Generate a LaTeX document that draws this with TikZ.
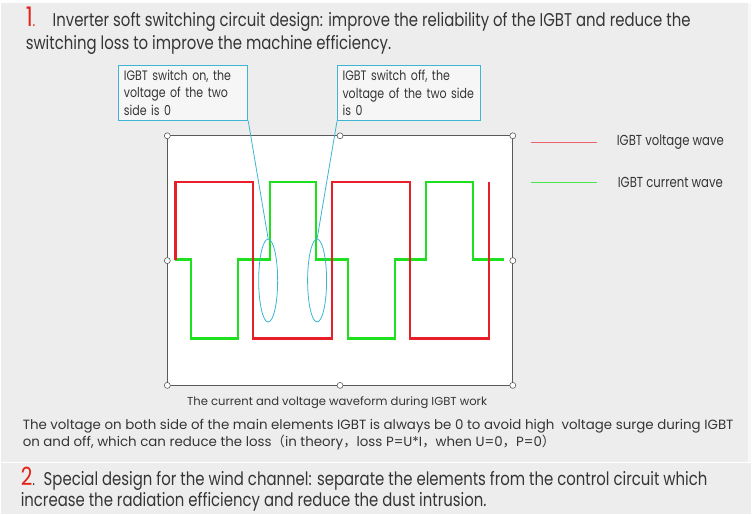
\documentclass[tikz,border=0pt]{standalone}
\usepackage{fontspec}
\setmainfont{Poppins}
\newfontfamily\headfont{Poppins}[FakeStretch=0.806]
\newfontfamily\cjk{Noto Sans CJK SC}
\usepackage{xcolor}
\usetikzlibrary{positioning,shapes.geometric}

\definecolor{bggray}{HTML}{EDEDED}
\definecolor{txtgray}{HTML}{353535}
\definecolor{numred}{HTML}{E2231A}
\definecolor{wavered}{HTML}{E81E28}
\definecolor{wavegreen}{HTML}{1EE01E}
\definecolor{callcyan}{HTML}{3DB5D3}
\definecolor{framegray}{HTML}{5A5A5A}

\tikzset{
  heading/.style={anchor=base west, inner sep=0pt, text=txtgray, font=\headfont\fontsize{18.5}{22}\selectfont},
  bodytext/.style={anchor=base west, inner sep=0pt, text=txtgray, font=\fontsize{13.4}{17}\selectfont},
  callout/.style={draw=callcyan, line width=1pt, fill=bggray!50!white, anchor=north west,
    inner xsep=5pt, inner ysep=0pt, minimum height=55pt, align=left, text=txtgray,
    font=\headfont\fontsize{13.7}{17.8}\selectfont},
  legendtext/.style={anchor=west, inner sep=0pt, text=txtgray, font=\headfont\fontsize{14.5}{16}\selectfont},
  zone/.style={ellipse, draw=callcyan, line width=0.8pt, inner sep=0pt,
    minimum width=19pt, minimum height=83pt},
  handle/.style={circle, draw=framegray, fill=white, line width=0.6pt, inner sep=0pt, minimum size=6pt},
  wave/.style={line width=2.4pt, line join=miter},
}

\begin{document}
\begin{tikzpicture}[x=1pt, y=-1pt]
    % Background
    \fill[bggray] (0,0) rectangle (752,515);
    \fill[white] (0,0) rectangle (752,3);
    \fill[white!60!bggray] (749,3) rectangle (752,463);
    \draw[white, line width=1.2pt] (0,463) -- (752,463);
    \useasboundingbox (0,0) rectangle (752,515);

    % Heading 1
    \node[heading, text=numred, font=\headfont\fontsize{27}{27}\selectfont] (num1) at (25,27) {1\fontsize{16}{16}\selectfont.};
    \node[heading] (head1a) at (52,27) {Inverter soft switching circuit design: improve the reliability of the IGBT and reduce the};
    \node[heading] (head1b) at (25,50) {switching loss to improve the machine efficiency.};

    % Callouts
    \node[callout, minimum width=129pt, text width=119pt] (boxon) at (118,65)
      {IGBT switch on, the\\voltage of the two\\side is 0};
    \node[callout, minimum width=143pt, text width=133pt] (boxoff) at (337,65)
      {IGBT switch off, the\\voltage of the two side\\is 0};

    % Frame with handles
    \draw[framegray, line width=0.8pt, fill=white] (167,136) rectangle (513,386);

    % Waves
    \draw[wave, wavegreen] (175,260) -- (191,260) -- (191,339) -- (238,339) -- (238,260)
      -- (270,260) -- (270,182) -- (316,182) -- (316,260) -- (348,260) -- (348,339)
      -- (395,339) -- (395,260) -- (426,260) -- (426,182) -- (473,182) -- (473,260) -- (504,260);
    \draw[wave, wavered] (175,260) -- (175,182) -- (253,182) -- (253,339) -- (332,339)
      -- (332,182) -- (410,182) -- (410,339) -- (489,339) -- (489,182);

    \foreach \hx/\hy in {167/136, 340/136, 513/136, 167/261, 513/261, 167/386, 340/386, 513/386}
      \node[handle] at (\hx,\hy) {};

    % Switching zones
    \node[zone] (on) at (268,281) {};
    \node[zone] (off) at (317,281) {};
    \draw[callcyan, line width=0.8pt] (boxon.south east) -- (on.north);
    \draw[callcyan, line width=0.8pt] (boxoff.south west) -- (off.north);

    % Legend
    \draw[wavered!70!white, line width=1.3pt] (531,143) coordinate (lr1) -- (597,143) coordinate (lr2);
    \node[legendtext] (legv) at (617,142) {IGBT voltage wave};
    \draw[wavegreen!80!white, line width=1.3pt] (531,183) coordinate (lg1) -- (597,183) coordinate (lg2);
    \node[legendtext] (legc) at (618,183) {IGBT current wave};

    % Caption
    \node[text=txtgray, inner sep=0pt, font=\fontsize{11.6}{13}\selectfont] (cap) at (337,403)
      {The current and voltage waveform during IGBT work};

    % Explanation
    \node[bodytext] (expa) at (22,430) {The voltage on both side of the main elements IGBT is always be 0 to avoid high\ \ voltage surge during IGBT};
    \node[bodytext] (expb) at (22,447) {on and off, which can reduce the loss{\cjk （}in theory{\cjk ，}loss P=U*I{\cjk ，}when U=0{\cjk ，}P=0{\cjk ）}};

    % Heading 2
    \node[heading, text=numred, font=\headfont\fontsize{25}{25}\selectfont] (num2) at (20,486) {2\fontsize{16}{16}\selectfont\textcolor{txtgray}{.}};
    \node[heading] (head2a) at (43,486) {Special design for the wind channel: separate the elements from the control circuit which};
    \node[heading] (head2b) at (20,507) {increase the radiation efficiency and reduce the dust intrusion.};
\end{tikzpicture}
\end{document}
